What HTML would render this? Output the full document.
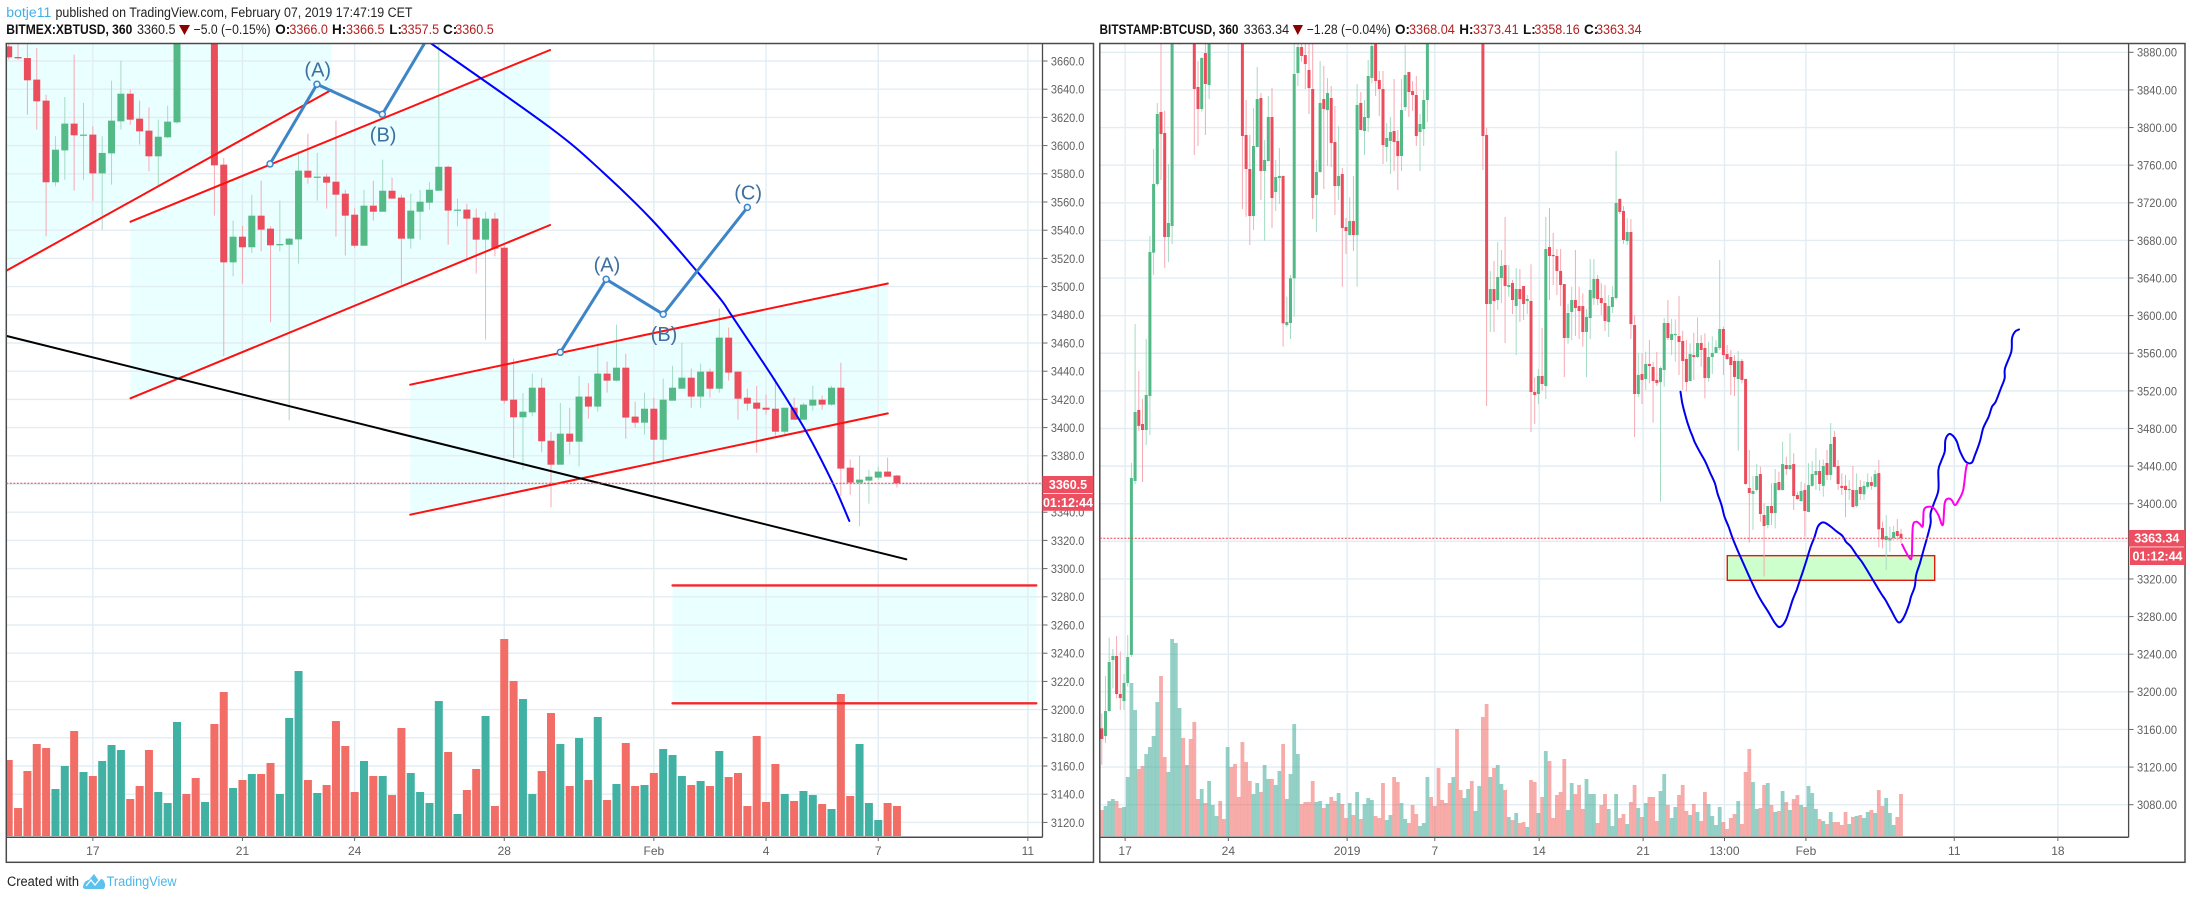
<!DOCTYPE html>
<html lang="en">
<head>
<meta charset="utf-8">
<title>BITMEX:XBTUSD and BITSTAMP:BTCUSD charts</title>
<style>
html,body{margin:0;padding:0;background:#fff;width:2192px;height:899px;overflow:hidden}
svg{display:block;font-family:"Liberation Sans",Arial,sans-serif}
.h{font-size:13.5px;fill:#222}
.hb{font-size:13.5px;fill:#111;font-weight:bold}
.hr{font-size:13.5px;fill:#b21f1f}
.tick{font-size:12px;fill:#606060}
</style>
</head>
<body>
<svg id="stage" xmlns="http://www.w3.org/2000/svg" width="2192" height="899" viewBox="0 0 2192 899">
  <defs>
    <clipPath id="clipL"><rect x="6.3" y="43.5" width="1036.2" height="793.8"/></clipPath>
    <clipPath id="clipR"><rect x="1099.8" y="43.5" width="1028.8" height="793.8"/></clipPath>
  </defs>
  <rect x="0" y="0" width="2192" height="899" fill="#ffffff"/>

  <g>
    <text x="6.3" y="17" style="font-size:13.5px;fill:#3fb1e6" textLength="45" lengthAdjust="spacingAndGlyphs">botje11</text>
    <text class="h" x="55.5" y="17" textLength="357" lengthAdjust="spacingAndGlyphs">published on TradingView.com, February 07, 2019 17:47:19 CET</text>
  </g>

  <g>
    <text class="hb" x="6.3" y="34" textLength="126" lengthAdjust="spacingAndGlyphs">BITMEX:XBTUSD, 360</text>
    <text class="h" x="137" y="34" textLength="38.5" lengthAdjust="spacingAndGlyphs">3360.5</text>
    <polygon points="179,25 190,25 184.5,35" fill="#8b0000"/>
    <text class="h" x="193.6" y="34" textLength="77" lengthAdjust="spacingAndGlyphs">−5.0 (−0.15%)</text>
    <text class="hb" x="275.3" y="34">O:</text>
    <text class="hr" x="289.4" y="34" textLength="38.5" lengthAdjust="spacingAndGlyphs">3366.0</text>
    <text class="hb" x="332" y="34">H:</text>
    <text class="hr" x="346" y="34" textLength="38.5" lengthAdjust="spacingAndGlyphs">3366.5</text>
    <text class="hb" x="389.3" y="34">L:</text>
    <text class="hr" x="400.6" y="34" textLength="38.5" lengthAdjust="spacingAndGlyphs">3357.5</text>
    <text class="hb" x="443" y="34">C:</text>
    <text class="hr" x="455.3" y="34" textLength="38.5" lengthAdjust="spacingAndGlyphs">3360.5</text>
  </g>

  <g>
    <text class="hb" x="1099.5" y="34" textLength="139" lengthAdjust="spacingAndGlyphs">BITSTAMP:BTCUSD, 360</text>
    <text class="h" x="1243.6" y="34" textLength="45.5" lengthAdjust="spacingAndGlyphs">3363.34</text>
    <polygon points="1292.7,25 1303,25 1297.8,35" fill="#8b0000"/>
    <text class="h" x="1306.8" y="34" textLength="84" lengthAdjust="spacingAndGlyphs">−1.28 (−0.04%)</text>
    <text class="hb" x="1395" y="34">O:</text>
    <text class="hr" x="1409" y="34" textLength="45.8" lengthAdjust="spacingAndGlyphs">3368.04</text>
    <text class="hb" x="1459.3" y="34">H:</text>
    <text class="hr" x="1473" y="34" textLength="45.6" lengthAdjust="spacingAndGlyphs">3373.41</text>
    <text class="hb" x="1523" y="34">L:</text>
    <text class="hr" x="1534.4" y="34" textLength="45.3" lengthAdjust="spacingAndGlyphs">3358.16</text>
    <text class="hb" x="1584" y="34">C:</text>
    <text class="hr" x="1596" y="34" textLength="45.6" lengthAdjust="spacingAndGlyphs">3363.34</text>
  </g>

  <g id="leftPanel"></g>
  <g id="rightPanel"></g>

  <g>
    <text x="7" y="886" style="font-size:13.5px;fill:#222" textLength="72" lengthAdjust="spacingAndGlyphs">Created with</text>
    <path d="M83 888 C83 882 87 880 89 880 L94 874 L99 881 L101 879 C104 879 105 883 105 885 C105 888 104 889 103 889 L85 889 Z" fill="#5cc1ec"/>
    <path d="M86 886 L91 880 L95 885 L100 879" fill="none" stroke="#ffffff" stroke-width="1.2"/>
    <text x="106.6" y="886" style="font-size:13.5px;fill:#4db6e8" textLength="70" lengthAdjust="spacingAndGlyphs">TradingView</text>
  </g>
</svg>
<script>
// ---------- LEFT CHART DATA: BITMEX XBTUSD 6h ----------
const leftOpen = [3670.4,3662.8,3662.1,3646.8,3631.9,3574,3596.6,3615.6,3607.3,3607.8,
3580.3,3594.5,3617.2,3636.8,3619.1,3610.6,3592.4,3605.9,3616.5,3712,
3695,3685,3705,3586.5,3517.2,3535.4,3527.9,3550.3,3541.1,3529.3,
3529.7,3533.5,3582.2,3577.3,3578,3574.4,3565.9,3551,3529,3557.4,
3553.1,3568,3563.1,3534,3553.1,3559.5,3568,3585,3553.9,3554.6,
3548.9,3533.3,3548.2,3527.6,3419.8,3407.3,3410.8,3428.3,3390.7,3373.7,
3395.7,3390,3422,3414.9,3438.3,3433.3,3442.5,3407.8,3403.5,3413.4,
3391.4,3419.1,3427.6,3435.4,3422,3439.7,3427.6,3463.8,3439.7,3421.2,
3417.7,3414.1,3413.4,3397.1,3414.1,3405.6,3415.6,3419.8,3416.3,3428.3,
3371.6,3361,3362.4,3364.5,3368.8,3366];
const leftHigh = [3675,3680,3675,3669.2,3636.1,3606.6,3634.5,3664.5,3630.2,3613.7,
3606.6,3646,3660.2,3639.7,3631.9,3627.1,3618.4,3628.3,3700,3720,
3700,3710,3710,3591.2,3546.8,3543.2,3565.2,3575.1,3542.8,3561,
3534.5,3596,3608.5,3594.8,3580.1,3617.7,3568.7,3555.7,3568.7,3575.1,
3590,3577.3,3565.2,3565.9,3568.7,3574,3680,3585.8,3562.4,3558.8,
3555.3,3553.1,3552.4,3529,3448.9,3424.5,3438.3,3435.2,3396.9,3417.5,
3414.1,3436.8,3431.6,3460,3446.8,3473,3452.4,3418.4,3424.8,3421.2,
3434.7,3443.9,3460,3441.8,3445.4,3441.8,3484.4,3470.9,3439.7,3427.6,
3429.7,3423.4,3434.7,3414.1,3421.2,3417.7,3429.7,3422.7,3429.7,3446,
3377.3,3380.1,3370.2,3372.3,3378.7,3366.5];
const leftLow = [3661,3661,3621.9,3611.3,3535.7,3571.1,3575.8,3568.1,3575.8,3560.9,
3540.4,3572.3,3611.3,3614.8,3600.7,3581.8,3571.1,3605.2,3615.5,3690,
3680,3680,3550.3,3450.6,3507.3,3502.1,3523.8,3525,3474.7,3525,
3405.2,3516.3,3573,3561,3555.3,3535.4,3522,3527.4,3529,3546.8,
3553.1,3562.4,3501.4,3526.9,3533.3,3554.6,3568,3529.7,3542.7,3519.1,
3509.2,3462.4,3521.5,3417,3378.4,3370.2,3408,3382.5,3343.5,3373.7,
3380.8,3372.5,3406.3,3411.3,3424.8,3432.6,3392.2,3400,3395,3374.9,
3375.9,3419.1,3427.6,3414.1,3414.1,3421.2,3424.8,3433.3,3405.6,3412,
3382.2,3409.2,3394.3,3394.3,3405.6,3405.6,3412,3412.7,3415.6,3351.3,
3352.4,3330,3346.1,3363.1,3365.2,3357.5];
const leftClose = [3662.6,3661.9,3646.3,3631.4,3574,3597.1,3615.6,3607.3,3607.8,3580.3,
3594.8,3617.7,3636.8,3618.4,3610.1,3592.4,3606.3,3617,3690,3695,
3685,3705,3586,3517.2,3535.4,3527.9,3550.3,3540.4,3529.3,3530.2,
3534,3582.2,3577.3,3578,3573.7,3565.2,3550.3,3529,3557.4,3553.1,
3568,3562.4,3534,3553.9,3560.2,3568.7,3585,3553.9,3554.6,3548.2,
3533.3,3548.2,3526.9,3419.1,3407.3,3411.3,3428.3,3390.3,3373.7,3395.7,
3390,3422,3414.9,3438.3,3433.3,3442.5,3407.1,3403.5,3413.4,3391.4,
3419.8,3428.3,3435.4,3422,3439.7,3427.6,3463.8,3439,3420.5,3417,
3413.4,3412.7,3397.1,3414.1,3405.6,3416.3,3419.8,3416.3,3428.3,3370.9,
3361,3363.1,3365.2,3368.8,3365.2,3360.5];
const leftVolume = [228,84,195,276,264,141,210,315,192,180,
225,273,258,111,150,258,132,99,342,126,
174,102,336,432,144,168,186,186,219,126,
354,495,168,129,153,345,270,132,225,180,
180,123,324,189,132,99,405,252,66,138,
201,360,90,591,465,411,126,195,369,276,
150,294,168,357,108,156,279,150,153,189,
261,243,180,153,165,150,255,177,189,90,
300,102,216,126,105,135,123,96,81,426,
120,276,99,48,99,90];
const leftPriceTicks = [3660,3640,3620,3600,3580,3560,3540,3520,3500,3480,3460,3440,3420,3400,3380,3360,3340,3320,3300,3280,3260,3240,3220,3200,3180,3160,3140,3120];
const leftTimeTickBars = [9,25,37,53,69,81,93,109];
const leftTimeTickLabels = ['17','21','24','28','Feb','4','7','11'];
const leftLastPrice = 3360.5;
const leftCountdown = '01:12:44';

// left drawings, in [bar index, price]
const leftLineA = [[-0.26,3511.3],[34.5,3639.4]];
const leftLineB = [[13.03,3546],[57.9,3667.8]];
const leftLineC = [[13.03,3420.8],[57.9,3543.7]];
const leftFillUpper = [[-0.26,3511.3],[34.5,3639.4],[34.5,3800],[-0.26,3800]];
const leftChannel2Top = [[42.94,3430.4],[94.02,3502.2]];
const leftChannel2Bottom = [[42.94,3338.2],[94.02,3410.1]];
const leftChannel3Top = [[71,3288.1],[109.9,3288.1]];
const leftChannel3Bottom = [[71,3204.5],[109.9,3204.5]];
const leftBlackLine = [[-0.26,3465],[96,3306.6]];
const leftBlueCurve = [[45.13,3672.6],[57.9,3612.8],[63.5,3581.5],[68.8,3547.2],[73.65,3510.6],[76.2,3490.5],[77.4,3478.7],[81.9,3433.8],[85.3,3397.1],[88.2,3359.8],[89.9,3333.8]];
const leftWaveOne = [[27.95,3587],[32.97,3643.5],[39.96,3622.2],[47.2,3703]];
const leftWaveTwo = [[59,3453.4],[63.9,3505.2],[70,3480.4],[79,3556.2]];
const waveTags = ['(A)','(B)','(C)'];

// ---------- RIGHT CHART DATA: BITSTAMP BTCUSD 6h ----------
const rightOpen = [3161.2,3153,3179.6,3233.9,3238.1,3197.7,3190.2,3209.4,3239.2,3424.2,
3499.7,3484.8,3478.4,3514.6,3667,3740,3816.5,3794.2,3683.6,3695.3,
3905,3925,3945,3930,3950,3950,3843.1,3819.7,3879.2,3845.2,
3900,3930,3960,3945,3925,3950,3940,3925,3910,3792.1,
3755.9,3705.9,3779.3,3831.4,3753.8,3764.4,3811.2,3731.5,3746.3,3748.5,
3590,3592.2,3639.7,3858,3885.6,3877.1,3861.2,3841,3728.3,3752.7,
3830.3,3818.6,3831.4,3784.6,3737.8,3750.6,3694.2,3685.7,3700.6,3685.7,
3826.1,3796.3,3810.1,3852.7,3895,3850.5,3841,3779.3,3785.7,3796.3,
3785.7,3769.7,3821.8,3859,3838.8,3834.6,3795.2,3798.4,3829.3,3960,
3945,3930,3920,3995,3980,3970,3985,3975,3965,3980,
3995,3985,4000,4010,3792.1,3612.4,3628.3,3616.6,3640,3653.8,
3630.4,3634.7,3610.2,3628.3,3631.5,3615.6,3615.6,3518.8,3516.7,3535.8,
3525.2,3673,3664.5,3663.4,3647.5,3633.6,3576.2,3603.9,3616.6,3610.2,
3610.2,3582.6,3597.5,3618.4,3639,3618.7,3613.4,3593.2,3609.2,3618.7,
3724,3711.3,3679.3,3688.9,3590,3516.7,3537.9,3532.6,3548.6,3545.4,
3531.6,3529.4,3542.2,3592.2,3574.1,3579.4,3578.3,3573,3553.9,3530.5,
3558.1,3556,3570.9,3565.6,3533.7,3556,3560.3,3565.6,3585.8,3559.2,
3556,3551.8,3532.6,3551.8,3532.6,3416.7,3410.4,3414.6,3431.6,3388,
3377.4,3397.6,3390.1,3423.1,3414.6,3441.2,3436.9,3442.2,3409.3,3402.9,
3414.6,3391.2,3419,3430.6,3434.8,3419,3443.3,3430.6,3471,3440.1,
3419,3419,3414.6,3414.6,3397.6,3417.8,3410,3418,3423,3418,
3432.6,3374.2,3361.4,3361,3363.6,3371,3368.04];
const rightHigh = [3177,3217,3257.6,3245.6,3259.4,3242.7,3219,3260.4,3443.3,3591,
3541.1,3511.4,3575.2,3684.7,3777.2,3826.1,3890,3817.6,3761.2,3910,
3935,3950,3955,3960,3965,3960,3870.7,3875,3890,3905,
3940,3970,3975,3955,3960,3965,3950,3935,3915,3829.3,
3792.1,3820.8,3864.4,3836.7,3786.7,3833.5,3842,3765.5,3778.2,3749,
3620.2,3643.2,3890,3890,3892,3893,3890,3892,3765.5,3870.7,
3865.4,3852.7,3844.2,3822.9,3801.6,3757,3703.8,3726,3748.5,3846.3,
3837.8,3829.3,3871.8,3890,3900,3860.1,3860.1,3804.8,3811.2,3851.6,
3797.4,3851.6,3887.8,3859,3849.5,3854.8,3814.4,3839.9,3905,3975,
3955,3940,3930,4010,3990,3995,4000,3985,3990,4010,
4005,4015,4025,4020,3799.5,3647.5,3658.1,3678.3,3669.8,3704.9,
3653.8,3637.9,3650.6,3649.6,3631.5,3621.9,3654.6,3534.4,3543.3,3586.9,
3704.9,3714.4,3687.9,3670.9,3670.9,3633.6,3612.4,3630.8,3669.8,3630.8,
3623.7,3607.1,3660.2,3660.2,3643.2,3634.3,3632.6,3621.9,3631.5,3775,
3725,3716.6,3703.8,3702.7,3600.7,3560.3,3559.9,3561.7,3574.1,3550.7,
3561.3,3546,3597.5,3616.6,3596.4,3596,3620.9,3584,3574.1,3570.6,
3581.9,3598.2,3579.4,3581.2,3572.3,3578,3574,3659.2,3588.3,3568.8,
3563.5,3558.1,3562.4,3553.9,3533,3457.1,3429.5,3442.2,3439.4,3400.4,
3397.6,3421.7,3436.9,3434.1,3466,3450,3474.9,3453.6,3412.8,3423.5,
3421.7,3443,3445.4,3458.9,3446.5,3447,3457.1,3485.8,3477.3,3446.5,
3432.3,3430.6,3425,3440.1,3432.3,3425.2,3424,3432.3,3429,3436,
3446.5,3381,3388,3375.6,3376.3,3383.8,3373.41];
const rightLow = [3122.3,3145.6,3179,3203.7,3193.1,3180.7,3180.7,3205.5,3237,3421,
3477.3,3423.1,3462.4,3473.1,3643.2,3738,3744.2,3650.6,3657,3676.2,
3895,3888,3925,3925,3935,3770.8,3780.4,3816.9,3792.1,3830.3,
3895,3925,3935,3915,3920,3930,3915,3900,3713.4,3705.2,
3675.1,3691.1,3779,3722.9,3679.7,3764,3693.2,3711.3,3718.7,3567,
3588,3575.2,3598.9,3844.2,3870,3841,3814.4,3702.7,3688.9,3752,
3734.6,3759.1,3758,3707,3722.9,3630.8,3665.6,3685,3668.7,3630.8,
3797,3770.8,3795.2,3847,3833.6,3812.3,3761.2,3763.4,3750.6,3753.8,
3733.6,3753.8,3817.6,3811.2,3817.6,3780.4,3753.8,3780.4,3805.9,3935,
3920,3910,3900,3970,3960,3960,3965,3955,3960,3975,
3975,3980,3990,3754.8,3503.9,3582.6,3582.6,3606,3613.4,3570.9,
3620.2,3601.7,3558.1,3593.2,3595.4,3601.7,3476.3,3484.8,3506,3520.2,
3511.4,3616.7,3632.6,3621.9,3610.2,3534.7,3570.1,3574.1,3578.3,3575.2,
3567,3534.7,3575.2,3611.3,3611.3,3600.7,3583.7,3577.3,3602.8,3617,
3708,3676.2,3675.1,3575.2,3471,3513.5,3506,3520.9,3528,3486.2,
3525.2,3402.2,3524.5,3574.1,3558.1,3551.1,3536.9,3520.9,3519.2,3530,
3531.6,3555,3545.7,3512.1,3529.8,3537.9,3560,3563.5,3536.9,3553,
3515.6,3514.6,3456.4,3528,3420,3358.6,3372.1,3413,3380.9,3322.5,
3373.8,3377.4,3373.8,3414,3414,3430.6,3436,3393.3,3404,3402,
3365,3391,3418,3414.6,3413.6,3407.5,3425.2,3425,3439,3414.6,
3409.3,3385.6,3404,3396,3396,3404,3404,3416,3415,3418,
3353.6,3352.6,3329.6,3349,3361,3361,3358.16];
const rightClose = [3149.9,3179.6,3231.7,3238.1,3197.7,3193.4,3209.4,3237,3427.4,3497.5,
3482.7,3478.4,3515.6,3667.7,3740,3814.4,3793.1,3683.6,3698.5,3900,
3925,3945,3930,3950,3940,3841,3819.7,3873.9,3846.3,3900,
3930,3960,3945,3925,3950,3940,3925,3910,3791,3755.9,
3705.9,3780.4,3830.3,3753.8,3765.5,3811.2,3725.1,3747.4,3748.5,3591.8,
3593.2,3639.7,3856.9,3885.6,3876.1,3867.6,3842,3725.1,3752.7,3826.1,
3819.7,3836.7,3783.6,3737.8,3748.5,3693.2,3690,3700.6,3685.7,3824,
3797.4,3811.2,3854.8,3886.7,3849.5,3841,3781.4,3788.9,3795.2,3784.6,
3769.7,3818.6,3855.9,3837.8,3834.6,3791,3803.8,3829.3,3900,3945,
3930,3920,3910,3980,3970,3985,3975,3965,3980,3995,
3985,4000,4010,3791,3612.4,3628.3,3615.6,3641.1,3652.8,3631.5,
3632.6,3616.6,3628.3,3617.6,3612.4,3617.7,3518.8,3515.6,3535.8,3527.3,
3670.9,3663.4,3663.4,3647.5,3632.6,3576.2,3602.8,3616.6,3608.1,3604.9,
3582.6,3598.6,3627.3,3639,3617.7,3613.4,3594.3,3610.2,3619.8,3719.8,
3710.2,3680.4,3688.9,3591.1,3516.7,3536.9,3531.6,3548.6,3546.4,3530.5,
3528.4,3544.3,3592.2,3576.2,3580.5,3580.5,3572,3551.8,3529.4,3559.2,
3556,3570.9,3563.5,3533.7,3556,3560.3,3566.6,3585.8,3558.1,3553.9,
3547.5,3534.8,3551.8,3531.6,3421,3411.4,3413.6,3429.5,3389.1,3376.3,
3397.6,3390.1,3422,3414.6,3442.2,3436.9,3441.2,3408.2,3405,3413.6,
3392.3,3419.9,3431.6,3434.8,3421,3440.1,3430.6,3463.5,3439.1,3421,
3416.7,3414.6,3415.7,3396.6,3414.6,3410.4,3419,3423.1,3419,3431.6,
3372.8,3362.1,3365.7,3363,3369.9,3365.7,3363.34];
const rightVolume = [78,90,105,111,105,84,87,177,459,378,
201,210,246,267,300,402,480,237,192,591,
579,384,294,213,291,342,111,141,99,165,
93,60,105,51,267,207,216,117,282,222,
165,126,159,132,213,171,171,153,195,276,
111,186,336,246,96,102,102,165,102,105,
84,96,117,105,129,96,54,99,63,132,
51,96,114,108,60,54,159,48,63,177,
162,99,51,39,93,66,30,39,177,117,
90,204,108,99,159,177,321,138,114,141,
165,75,150,357,396,177,204,213,156,138,
57,48,69,39,42,27,168,162,69,117,
255,225,54,123,132,231,78,159,126,153,
81,171,126,126,39,93,126,81,30,126,
54,66,36,102,153,84,57,99,117,117,
45,135,186,93,54,87,123,153,75,63,
96,72,45,132,96,60,33,87,42,21,
54,66,105,36,192,261,162,81,84,153,
159,93,72,75,135,102,78,111,123,93,
87,150,129,81,51,45,36,72,42,42,
33,72,36,57,60,63,54,72,78,69,
138,90,114,69,33,57,126];
const rightPriceTicks = [3880,3840,3800,3760,3720,3680,3640,3600,3560,3520,3480,3440,3400,3360,3320,3280,3240,3200,3160,3120,3080];
const rightTimeTickBars = [6.3,34.2,66.3,90,118.2,146.3,168.3,190.3,230.4,258.4];
const rightTimeTickLabels = ['17','24','2019','7','14','21','13:00','Feb','11','18'];
const rightLastPrice = 3363.34;
const rightCountdown = '01:12:44';

// right drawings, in [bar index, price]
const rightSupportBox = [[169.05,3344.8],[225.1,3318.6]];
const rightBluePath = [[156.4,3519.1],[156.9,3506.7],[157.8,3492.6],[158.8,3480.1],[159.7,3471.3],[160.2,3466],[161.6,3455.3],[163.1,3444.7],[164.5,3432.3],[165.7,3421.7],[166.4,3411],[167.5,3398.6],[168.3,3386.2],[169.4,3375.6],[170.4,3364.3],[171.6,3352.6],[172.6,3343.7],[174,3331.3],[175.4,3318.9],[176.9,3306.5],[178.1,3297.6],[180.1,3285.2],[182,3272.8],[183.3,3268.9],[184.9,3276.3],[186.7,3297.6],[187.8,3308.3],[188.7,3318.9],[190.2,3336.6],[191.6,3354.3],[192.6,3364.3],[193.5,3375.6],[194.5,3379.8],[195.4,3379.8],[196.8,3376.3],[198.7,3370.3],[200.2,3365.7],[201.1,3359.6],[202.5,3354.3],[204,3345.5],[205.4,3338.4],[206.8,3329.5],[208.7,3317.1],[210.6,3304.7],[211.8,3297.6],[213.3,3287],[215.2,3274.2],[216.6,3278.1],[218.1,3292.3],[218.7,3301.2],[219.7,3311.8],[220.1,3324.2],[221.1,3336.6],[222.1,3350.8],[223,3363.2],[224,3379.1],[224,3389.8],[224.9,3400.4],[226.1,3414.6],[226.1,3435.8],[226.8,3444.7],[227.8,3455.3],[228,3467.7],[229,3474.1],[230.1,3472],[231.1,3466],[232,3455.3],[233.5,3444.7],[235.1,3443.6],[236,3451.8],[237.3,3466],[238.2,3480.1],[239.7,3492.6],[240.6,3503.2],[241.6,3508.5],[243,3522.7],[244,3533.3],[244.1,3543.9],[245.8,3561.7],[246,3575.8],[246.8,3582.9],[247.9,3585.4]];
const rightMagentaPath = [[216.3,3356.8],[217.3,3349],[218.2,3343],[218.9,3343.7],[219.2,3375.6],[220.1,3380.9],[221.1,3378.4],[221.9,3376.3],[222.2,3393.3],[223.5,3396.9],[224.9,3395.1],[226.1,3388],[227.3,3377.4],[227.8,3400.4],[228.7,3405.4],[229.7,3403.9],[230.6,3398.6],[231.6,3403.9],[232.8,3414.6],[233.5,3435.8],[233.9,3442.2]];

// ---------- AXIS FUNCTIONS ----------
const leftX = i => 8.7 + 9.35 * i;
const leftY = p => 61 + (3660 - p) * 1.41;
const rightX = i => 1101.8 + 3.7 * i;
const rightY = p => 52.3 + (3880 - p) * 0.9405;
const volumeY = v => 836 - v / 3;

// ---------- DRAW HELPERS ----------
const NS = 'http://www.w3.org/2000/svg';
function make(parent, tag, attrs, text) {
  const el = document.createElementNS(NS, tag);
  for (const k in attrs) el.setAttribute(k, attrs[k]);
  if (text !== undefined) el.textContent = text;
  parent.appendChild(el);
  return el;
}
function group(parent, name, clip) {
  const g = make(parent, 'g', clip ? {'clip-path': 'url(#' + clip + ')'} : {});
  
  
  return g;
}
function pts(list, xf, yf) {
  return list.map(p => xf(p[0]).toFixed(1) + ',' + yf(p[1]).toFixed(1)).join(' ');
}
function polyline(parent, name, list, xf, yf, color, width) {
  const el = make(parent, 'polyline', {points: pts(list, xf, yf), fill: 'none', stroke: color, 'stroke-width': width, 'stroke-linejoin': 'round', 'stroke-linecap': 'round'});
  
  
  return el;
}
function smoothLine(parent, name, list, xf, yf, color, width) {
  const p = list.map(q => [xf(q[0]), yf(q[1])]);
  let d = 'M' + p[0][0].toFixed(1) + ' ' + p[0][1].toFixed(1);
  for (let i = 0; i < p.length - 1; i++) {
    const a = p[Math.max(i - 1, 0)], b = p[i], c = p[i + 1], e = p[Math.min(i + 2, p.length - 1)];
    const c1x = b[0] + (c[0] - a[0]) / 6, c1y = b[1] + (c[1] - a[1]) / 6;
    const c2x = c[0] - (e[0] - b[0]) / 6, c2y = c[1] - (e[1] - b[1]) / 6;
    d += 'C' + c1x.toFixed(1) + ' ' + c1y.toFixed(1) + ' ' + c2x.toFixed(1) + ' ' + c2y.toFixed(1) + ' ' + c[0].toFixed(1) + ' ' + c[1].toFixed(1);
  }
  const el = make(parent, 'path', {d: d, fill: 'none', stroke: color, 'stroke-width': width, 'stroke-linejoin': 'round', 'stroke-linecap': 'round'});
  
  
  return el;
}
function polygon(parent, name, list, xf, yf, fill) {
  const el = make(parent, 'polygon', {points: pts(list, xf, yf), fill: fill});
  
  
  return el;
}
function drawGrid(parent, priceTicks, timeBars, xf, yf, x0, x1) {
  const g = group(parent, 'price-time-grid');
  priceTicks.forEach(p => {
    const line = make(g, 'line', {x1: x0, x2: x1, y1: yf(p), y2: yf(p), stroke: '#e2edf3', 'stroke-width': 1.4});
    
    
  });
  timeBars.forEach(b => {
    const line = make(g, 'line', {x1: xf(b), x2: xf(b), y1: 43.5, y2: 837, stroke: '#e2edf3', 'stroke-width': 1.4});
    
    
  });
}
function drawVolumes(parent, vols, open, close, xf, width, upColor, downColor) {
  const g = group(parent, 'volume-bars');
  vols.forEach((v, i) => {
    const top = volumeY(v);
    const bar = make(g, 'rect', {x: xf(i) - width / 2, y: top, width: width, height: 836 - top, fill: close[i] >= open[i] ? upColor : downColor});
    
    
  });
}
function drawCandles(parent, open, high, low, close, xf, yf, bodyW) {
  const g = group(parent, 'candlesticks');
  open.forEach((o, i) => {
    const up = close[i] >= o;
    const x = xf(i);
    const wick = make(g, 'line', {x1: x, x2: x, y1: yf(high[i]), y2: yf(low[i]), stroke: up ? '#a5dcc3' : '#f7a9b2', 'stroke-width': 1});
    
    
    const top = yf(Math.max(o, close[i]));
    const bot = yf(Math.min(o, close[i]));
    const body = make(g, 'rect', {x: x - bodyW / 2, y: top, width: bodyW, height: Math.max(bot - top, 1.2), fill: up ? '#53b987' : '#eb4d5c'});
    
    
  });
}
function drawAxes(parent, o) {
  const g = group(parent, o.name);
  const frame = make(g, 'rect', {x: o.left, y: 43.5, width: o.right - o.left, height: 818.8, fill: 'none', stroke: '#4b4b4b', 'stroke-width': 1.5});
  
  
  const divider = make(g, 'line', {x1: o.axisX, x2: o.axisX, y1: 43.5, y2: 837.3, stroke: '#4b4b4b', 'stroke-width': 1.3});
  
  
  const base = make(g, 'line', {x1: o.left, x2: o.axisX, y1: 837.3, y2: 837.3, stroke: '#4b4b4b', 'stroke-width': 1.5});
  
  
  o.priceTicks.forEach(p => {
    const y = o.yf(p);
    const t = make(g, 'line', {x1: o.axisX, x2: o.axisX + 5, y1: y, y2: y, stroke: '#666', 'stroke-width': 1});
    
    
    const lab = make(g, 'text', {x: o.labelX, y: y + 4.4, class: 'tick', textLength: o.labelW, lengthAdjust: 'spacingAndGlyphs'}, p.toFixed(o.digits));
    
    
  });
  o.timeBars.forEach((b, i) => {
    const x = o.xf(b);
    const t = make(g, 'line', {x1: x, x2: x, y1: 837.3, y2: 841, stroke: '#666', 'stroke-width': 1});
    
    
    const lab = make(g, 'text', {x: x, y: 855, 'text-anchor': 'middle', class: 'tick'}, o.timeLabels[i]);
    
    
  });
}
function drawLastPrice(parent, o) {
  const g = group(parent, 'last-price-marker');
  const y = o.yf(o.price);
  const line = make(g, 'line', {x1: o.left, x2: o.axisX, y1: y, y2: y, stroke: '#f23f55', 'stroke-width': 1, 'stroke-dasharray': '2 1.5'});
  
  
  const box = make(g, 'rect', {x: o.axisX, y: o.y1, width: o.right - o.axisX, height: o.h1, fill: '#ee4f60'});
  
  
  const txt = make(g, 'text', {x: (o.axisX + o.right) / 2, y: o.y1 + o.h1 / 2 + 4.4, 'text-anchor': 'middle', fill: '#fff', 'font-size': '12.5px', 'font-weight': 'bold'}, o.price.toFixed(o.digits));
  
  
  const box2 = make(g, 'rect', {x: o.cx, y: o.y2, width: o.right - o.cx, height: o.h2, fill: '#ee4f60'});
  
  
  const txt2 = make(g, 'text', {x: (o.cx + o.right) / 2, y: o.y2 + o.h2 / 2 + 4.4, 'text-anchor': 'middle', fill: '#fff', 'font-size': '12.5px', 'font-weight': 'bold'}, o.countdown);
  
  
}
function drawWave(parent, name, list, tags, xf, yf) {
  const g = group(parent, name);
  polyline(g, 'wave-path', list, xf, yf, '#3d85c6', 3);
  list.forEach((p, i) => {
    const dot = make(g, 'circle', {cx: xf(p[0]), cy: yf(p[1]), r: 3, fill: '#eaf6ff', stroke: '#3d85c6', 'stroke-width': 1.5});
    
    
  });
  tags.forEach((t, i) => {
    if (i + 1 >= list.length) return;
    const p = list[i + 1];
    const below = t === '(B)';
    const lab = make(g, 'text', {x: xf(p[0]) + 0.8, y: yf(p[1]) + (below ? 27 : -8), 'text-anchor': 'middle', 'font-size': '20px', fill: '#3e6f9e'}, t);
    
    
  });
}

// ---------- LEFT PANEL ----------
const leftPanel = document.getElementById('leftPanel');
const lPlot = group(leftPanel, 'left-plot-area', 'clipL');
const lFills = group(lPlot, 'left-channel-fills');
const FILL = '#eaffff';
polygon(lFills, 'channel-fill-upper', leftFillUpper, leftX, leftY, FILL);
polygon(lFills, 'channel-fill-middle', [leftLineB[0], leftLineB[1], leftLineC[1], leftLineC[0]], leftX, leftY, FILL);
polygon(lFills, 'channel-fill-lower', [leftChannel2Top[0], leftChannel2Top[1], leftChannel2Bottom[1], leftChannel2Bottom[0]], leftX, leftY, FILL);
polygon(lFills, 'projection-fill', [leftChannel3Top[0], leftChannel3Top[1], leftChannel3Bottom[1], leftChannel3Bottom[0]], leftX, leftY, FILL);
drawGrid(lPlot, leftPriceTicks, leftTimeTickBars, leftX, leftY, 6.3, 1042.5);
drawVolumes(lPlot, leftVolume, leftOpen, leftClose, leftX, 8, '#41b1a3', '#f26d66');
drawCandles(lPlot, leftOpen, leftHigh, leftLow, leftClose, leftX, leftY, 7);
const lDraw = group(lPlot, 'left-drawings');
polyline(lDraw, 'trend-line-a', leftLineA, leftX, leftY, '#ff0f0f', 2);
polyline(lDraw, 'trend-line-b', leftLineB, leftX, leftY, '#ff0f0f', 2);
polyline(lDraw, 'trend-line-c', leftLineC, leftX, leftY, '#ff0f0f', 2);
polyline(lDraw, 'channel-top-line', leftChannel2Top, leftX, leftY, '#ff0f0f', 2);
polyline(lDraw, 'channel-bottom-line', leftChannel2Bottom, leftX, leftY, '#ff0f0f', 2);
polyline(lDraw, 'projection-top-line', leftChannel3Top, leftX, leftY, '#f8262a', 2.4);
polyline(lDraw, 'projection-bottom-line', leftChannel3Bottom, leftX, leftY, '#f8262a', 2.4);
polyline(lDraw, 'long-term-support-line', leftBlackLine, leftX, leftY, '#000000', 2);
smoothLine(lDraw, 'blue-curve', leftBlueCurve, leftX, leftY, '#0000ff', 2);
drawWave(lDraw, 'elliott-wave-first', leftWaveOne, waveTags, leftX, leftY);
drawWave(lDraw, 'elliott-wave-second', leftWaveTwo, waveTags, leftX, leftY);
drawAxes(leftPanel, {name: 'left-axes', left: 6.3, right: 1093.5, axisX: 1042.5, priceTicks: leftPriceTicks, yf: leftY, xf: leftX, timeBars: leftTimeTickBars, timeLabels: leftTimeTickLabels, labelX: 1050.9, labelW: 33.5, digits: 1});
drawLastPrice(leftPanel, {price: leftLastPrice, countdown: leftCountdown, digits: 1, yf: leftY, left: 6.3, axisX: 1042.5, right: 1093.5, cx: 1042.5, y1: 476, h1: 17.2, y2: 494, h2: 16.8});

// ---------- RIGHT PANEL ----------
const rightPanel = document.getElementById('rightPanel');
const rPlot = group(rightPanel, 'right-plot-area', 'clipR');
drawGrid(rPlot, rightPriceTicks, rightTimeTickBars, rightX, rightY, 1099.8, 2128.6);
const supportBox = make(rPlot, 'rect', {
  x: rightX(rightSupportBox[0][0]),
  y: rightY(rightSupportBox[0][1]),
  width: rightX(rightSupportBox[1][0]) - rightX(rightSupportBox[0][0]),
  height: rightY(rightSupportBox[1][1]) - rightY(rightSupportBox[0][1]),
  fill: '#ccffcc', stroke: '#e01a0a', 'stroke-width': 1.4
});


drawVolumes(rPlot, rightVolume, rightOpen, rightClose, rightX, 3.8, 'rgba(60,170,150,0.55)', 'rgba(240,90,85,0.5)');
drawCandles(rPlot, rightOpen, rightHigh, rightLow, rightClose, rightX, rightY, 3);
const rDraw = group(rPlot, 'right-drawings');
smoothLine(rDraw, 'blue-forecast-path', rightBluePath, rightX, rightY, '#0000ee', 2);
smoothLine(rDraw, 'magenta-forecast-path', rightMagentaPath, rightX, rightY, '#ff00ee', 2);
drawAxes(rightPanel, {name: 'right-axes', left: 1099.8, right: 2185, axisX: 2128.6, priceTicks: rightPriceTicks, yf: rightY, xf: rightX, timeBars: rightTimeTickBars, timeLabels: rightTimeTickLabels, labelX: 2137, labelW: 40, digits: 2});
drawLastPrice(rightPanel, {price: rightLastPrice, countdown: rightCountdown, digits: 2, yf: rightY, left: 1099.8, axisX: 2128.6, right: 2185, cx: 2130, y1: 530, h1: 16.6, y2: 547.3, h2: 17.7});
</script>
</body>
</html>
